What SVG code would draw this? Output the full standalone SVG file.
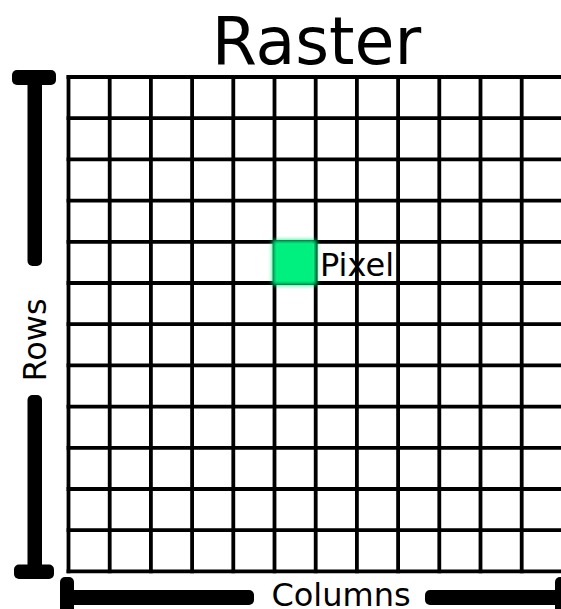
<svg xmlns="http://www.w3.org/2000/svg" width="561" height="609" viewBox="0 0 561 609">
<defs>
<style>
.grid{stroke:#000;stroke-width:3.8;fill:none;stroke-linecap:square}
.bar{fill:#000}
.lbl{font-family:"DejaVu Sans",sans-serif;fill:#000}
</style>
<filter id="blur" x="-30%" y="-30%" width="160%" height="160%"><feGaussianBlur stdDeviation="2.2"/></filter>
</defs>
<rect width="561" height="609" fill="#fff"/>
<g id="grid">
<path class="grid" d="M68.5 77V571.4M109.7 77V571.4M150.9 77V571.4M192.1 77V571.4M233.3 77V571.4M274.5 77V571.4M315.7 77V571.4M356.9 77V571.4M398.1 77V571.4M439.3 77V571.4M480.5 77V571.4M521.7 77V571.4M562.9 77V571.4"/>
<path class="grid" d="M68.5 77H562.9M68.5 118.2H562.9M68.5 159.4H562.9M68.5 200.6H562.9M68.5 241.8H562.9M68.5 283H562.9M68.5 324.2H562.9M68.5 365.4H562.9M68.5 406.6H562.9M68.5 447.8H562.9M68.5 489H562.9M68.5 530.2H562.9M68.5 571.4H562.9"/>
</g>
<g id="pixel">
<rect x="272.5" y="240" width="44" height="45" fill="#00f080" filter="url(#blur)"/>
<text class="lbl" x="320" y="276" font-size="32">Pixel</text>
</g>
<g id="title">
<text class="lbl" x="316.5" y="64" font-size="65" text-anchor="middle">Raster</text>
</g>
<g id="rows">
<rect class="bar" x="12" y="70" width="44" height="15" rx="5"/>
<rect class="bar" x="27.5" y="76" width="14.5" height="190" rx="5"/>
<rect class="bar" x="27.5" y="395" width="14.5" height="178" rx="5"/>
<rect class="bar" x="14" y="564.5" width="40" height="14.5" rx="5"/>
<text class="lbl" transform="translate(46 340) rotate(-90)" font-size="32" text-anchor="middle">Rows</text>
</g>
<g id="columns">
<rect class="bar" x="60" y="577" width="14" height="40" rx="5"/>
<rect class="bar" x="62" y="590" width="192" height="15" rx="5"/>
<rect class="bar" x="425" y="590" width="138" height="15" rx="5"/>
<rect class="bar" x="555" y="577" width="14" height="40" rx="5"/>
<text class="lbl" x="341" y="606" font-size="32" text-anchor="middle">Columns</text>
</g>
</svg>
